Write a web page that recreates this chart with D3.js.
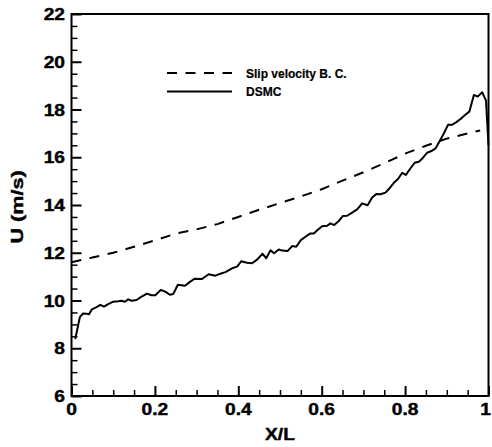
<!DOCTYPE html>
<html>
<head>
<meta charset="utf-8">
<script src="https://cdn.jsdelivr.net/npm/d3@7"></script>
<style>
  html, body { margin: 0; padding: 0; background: #fff; }
  svg { display: block; }
</style>
</head>
<body>
<div id="target"></div>
<script>
// DSMC velocity along the wall
const dsmcX = [0.009, 0.020, 0.028, 0.036, 0.042, 0.049, 0.060, 0.069, 0.078, 0.088,
  0.100, 0.112, 0.120, 0.128, 0.136, 0.144, 0.156, 0.168, 0.181, 0.192,
  0.201, 0.214, 0.225, 0.236, 0.244, 0.255, 0.272, 0.285, 0.295, 0.313,
  0.329, 0.345, 0.357, 0.369, 0.385, 0.397, 0.407, 0.421, 0.433, 0.445,
  0.458, 0.467, 0.477, 0.486, 0.497, 0.505, 0.518, 0.529, 0.539, 0.550,
  0.561, 0.573, 0.581, 0.590, 0.601, 0.613, 0.621, 0.630, 0.641, 0.651,
  0.661, 0.673, 0.685, 0.697, 0.710, 0.721, 0.731, 0.741, 0.753, 0.761,
  0.773, 0.783, 0.793, 0.802, 0.813, 0.823, 0.833, 0.842, 0.853, 0.863,
  0.873, 0.882, 0.893, 0.903, 0.913, 0.922, 0.933, 0.943, 0.954, 0.965,
  0.974, 0.985, 0.994, 1.000]
const dsmcU = [8.39, 9.30, 9.46, 9.45, 9.42, 9.63, 9.72, 9.82, 9.74, 9.85,
  9.95, 9.97, 9.99, 9.95, 10.05, 9.99, 10.02, 10.16, 10.29, 10.22,
  10.22, 10.44, 10.37, 10.24, 10.27, 10.66, 10.62, 10.79, 10.91, 10.90,
  11.10, 11.04, 11.12, 11.19, 11.35, 11.42, 11.64, 11.58, 11.56, 11.71,
  11.96, 11.77, 12.10, 11.98, 12.14, 12.09, 12.07, 12.28, 12.25, 12.53,
  12.67, 12.81, 12.81, 12.95, 13.11, 13.13, 13.23, 13.16, 13.33, 13.54,
  13.55, 13.68, 13.82, 14.07, 13.99, 14.31, 14.46, 14.45, 14.52, 14.67,
  14.93, 15.09, 15.35, 15.26, 15.54, 15.77, 15.81, 15.96, 16.19, 16.26,
  16.37, 16.65, 17.00, 17.36, 17.36, 17.46, 17.60, 17.76, 17.91, 18.61,
  18.54, 18.72, 18.37, 16.50]

// Slip velocity boundary condition solution
const slipX = [0, 0.05, 0.1, 0.15, 0.2, 0.25, 0.3, 0.35, 0.4, 0.45, 0.5,
  0.55, 0.6, 0.65, 0.7, 0.75, 0.8, 0.85, 0.9, 0.95, 0.98]
const slipU = [11.6, 11.8, 12.0, 12.25, 12.52, 12.8, 12.98, 13.2, 13.5, 13.8, 14.08,
  14.36, 14.66, 15.02, 15.37, 15.75, 16.15, 16.48, 16.78, 17.0, 17.12]

const xMajor = [0, 0.2, 0.4, 0.6, 0.8, 1]
const xTickLabels = ["0", "0.2", "0.4", "0.6", "0.8", "1"]
const yMajor = [6, 8, 10, 12, 14, 16, 18, 20, 22]

const legendNames = ["Slip velocity B. C.", "DSMC"]
const legendDash = ["10,8.5", null]

const width = 492, height = 447
const margin = { left: 71.5, right: 3.5, top: 14, bottom: 51 }
const font = "'Liberation Sans', Arial, Helvetica, sans-serif"

const svg = d3.select("#target").append("svg")
    .attr("width", width)
    .attr("height", height)

const x = d3.scaleLinear().domain([0, 1]).range([margin.left, width - margin.right])
const y = d3.scaleLinear().domain([6, 22]).range([height - margin.bottom, margin.top])

//Minor ticks
const xMinor = d3.range(0, 1.0001, 0.05).filter(v => !xMajor.some(m => Math.abs(m - v) < 1e-6))
const yMinor = d3.range(6, 22.001, 0.5).filter(v => !yMajor.some(m => Math.abs(m - v) < 1e-6))

svg.append("g")
    .attr("transform", "translate(0," + y(6) + ")")
    .call(d3.axisTop(x).tickValues(xMinor).tickSize(6).tickFormat(() => ""))
    .call(g => g.select(".domain").remove())
    .selectAll("line").attr("stroke", "black").attr("stroke-width", 1.5)

svg.append("g")
    .attr("transform", "translate(" + x(0) + ",0)")
    .call(d3.axisRight(y).tickValues(yMinor).tickSize(6).tickFormat(() => ""))
    .call(g => g.select(".domain").remove())
    .selectAll("line").attr("stroke", "black").attr("stroke-width", 1.5)

//Major ticks (inward)
svg.append("g")
    .attr("transform", "translate(0," + y(6) + ")")
    .call(d3.axisTop(x).tickValues(xMajor).tickSize(10).tickFormat(() => ""))
    .call(g => g.select(".domain").remove())
    .selectAll("line").attr("stroke", "black").attr("stroke-width", 2)

svg.append("g")
    .attr("transform", "translate(" + x(0) + ",0)")
    .call(d3.axisRight(y).tickValues(yMajor).tickSize(10).tickFormat(() => ""))
    .call(g => g.select(".domain").remove())
    .selectAll("line").attr("stroke", "black").attr("stroke-width", 2)

//Tick labels
svg.append("g")
    .selectAll("text")
    .data(xMajor)
    .join("text")
    .attr("transform", (d, i) => "translate(" + (x(d) - (i === xMajor.length - 1 ? 3 : 0)) + "," + (y(6) + 19) + ") scale(1.2,1)")
    .attr("text-anchor", "middle")
    .attr("font-family", font)
    .attr("font-weight", "bold")
    .attr("font-size", 16)
    .attr("stroke", "black")
    .attr("stroke-width", 0.4)
    .text((d, i) => xTickLabels[i])

svg.append("g")
    .selectAll("text")
    .data(yMajor)
    .join("text")
    .attr("transform", d => "translate(" + (x(0) - 6.5) + "," + (y(d) + 6) + ") scale(1.2,1)")
    .attr("text-anchor", "end")
    .attr("font-family", font)
    .attr("font-weight", "bold")
    .attr("font-size", 16)
    .attr("stroke", "black")
    .attr("stroke-width", 0.4)
    .text(d => d)

//Axis titles
svg.append("text")
    .attr("transform", "translate(" + ((x(0) + x(1)) / 2) + "," + 440 + ") scale(1.2,1)")
    .attr("text-anchor", "middle")
    .attr("font-family", font)
    .attr("font-weight", "bold")
    .attr("font-size", 16)
    .attr("stroke", "black")
    .attr("stroke-width", 0.4)
    .text("X/L")

svg.append("text")
    .attr("transform", "translate(" + 23 + "," + ((y(6) + y(22)) / 2 + 2) + ") rotate(-90) scale(1.35,1)")
    .attr("text-anchor", "middle")
    .attr("font-family", font)
    .attr("font-weight", "bold")
    .attr("font-size", 16)
    .attr("stroke", "black")
    .attr("stroke-width", 0.4)
    .text("U (m/s)")

//Lines
const line = d3.line()
    .x(d => x(d[0]))
    .y(d => y(d[1]))

svg.append("path")
    .attr("d", line(slipX.map((v, i) => [v, slipU[i]])))
    .attr("fill", "none")
    .attr("stroke", "black")
    .attr("stroke-width", 2)
    .attr("stroke-dasharray", legendDash[0])

svg.append("path")
    .attr("d", line(dsmcX.map((v, i) => [v, dsmcU[i]])))
    .attr("fill", "none")
    .attr("stroke", "black")
    .attr("stroke-width", 2)
    .attr("stroke-linejoin", "round")

//Frame
svg.append("rect")
    .attr("x", x(0))
    .attr("y", y(22))
    .attr("width", x(1) - x(0))
    .attr("height", y(6) - y(22))
    .attr("fill", "none")
    .attr("stroke", "black")
    .attr("stroke-width", 2)

//Legend
const legend = svg.append("g")
    .attr("transform", "translate(167,73)")

legend.selectAll("line")
    .data(legendNames)
    .join("line")
    .attr("x1", 0)
    .attr("x2", 65)
    .attr("y1", (d, i) => i * 18.5)
    .attr("y2", (d, i) => i * 18.5)
    .attr("stroke", "black")
    .attr("stroke-width", 2)
    .attr("stroke-dasharray", (d, i) => legendDash[i])

legend.selectAll("text")
    .data(legendNames)
    .join("text")
    .attr("x", 79)
    .attr("y", (d, i) => i * 18.5 + 4.5)
    .attr("font-family", font)
    .attr("font-weight", "bold")
    .attr("font-size", 12)
    .attr("stroke", "black")
    .attr("stroke-width", 0.2)
    .text(d => d)
</script>
</body>
</html>
